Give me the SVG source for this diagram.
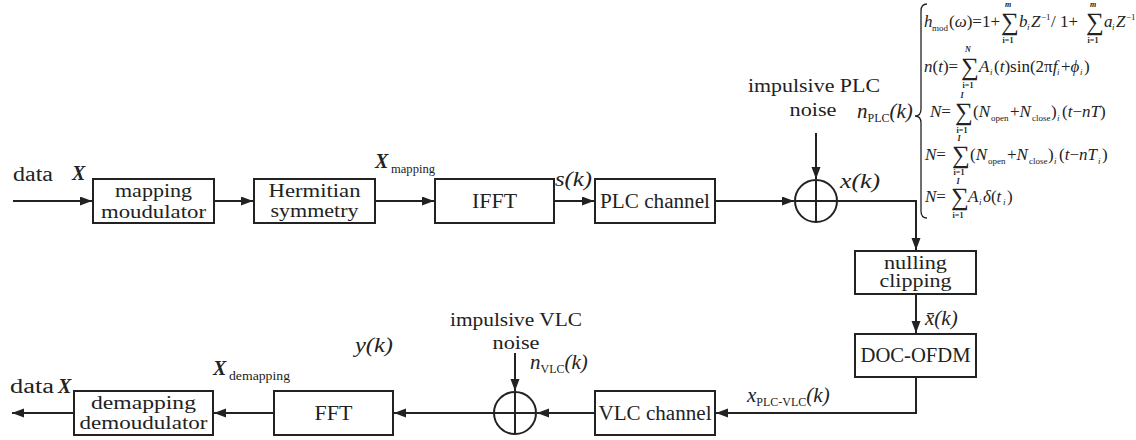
<svg xmlns="http://www.w3.org/2000/svg" width="1136" height="440" viewBox="0 0 1136 440">
<style>
.box{fill:#fff;stroke:#222;stroke-width:2}
.ln{fill:none;stroke:#222;stroke-width:2}
.lbl{font-family:"Liberation Serif","Times New Roman",serif;font-size:20px;fill:#222;text-anchor:middle}
.l2{font-size:19px}
.txt{font-family:"Liberation Serif","Times New Roman",serif;font-size:20px;fill:#222}
.m{font-family:"Liberation Serif","Times New Roman",serif;font-size:21px;font-style:italic;fill:#222}
.bx{font-family:"Liberation Serif","Times New Roman",serif;font-size:20px;font-style:italic;font-weight:bold;fill:#222}
.sb{font-family:"Liberation Serif","Times New Roman",serif;font-size:12px;font-style:normal;fill:#222}
.e{font-family:"Liberation Serif","Times New Roman",serif;font-size:17px;fill:#222}
.i{font-style:italic}
.es{font-family:"Liberation Serif","Times New Roman",serif;font-size:9px;fill:#222}
.sig{font-family:"Liberation Serif","Times New Roman",serif;font-size:25px;fill:#222}
.lim{font-family:"Liberation Serif","Times New Roman",serif;font-size:8px;font-weight:bold;fill:#222;text-anchor:middle}
</style>
<defs>
<marker id="ah" markerUnits="userSpaceOnUse" markerWidth="13" markerHeight="10" refX="12" refY="4.5" orient="auto">
<path d="M0,0 L12,4.5 L0,9 z" fill="#222"/>
</marker>
</defs>
<rect width="1136" height="440" fill="#fff"/>

<g id="connectors">
<path class="ln" d="M13,201 H92" marker-end="url(#ah)"/>
<path class="ln" d="M214,201 H253" marker-end="url(#ah)"/>
<path class="ln" d="M375,201 H434" marker-end="url(#ah)"/>
<path class="ln" d="M554,201 H594" marker-end="url(#ah)"/>
<path class="ln" d="M715,201 H794" marker-end="url(#ah)"/>
<path class="ln" d="M816,133 V179" marker-end="url(#ah)"/>
<path class="ln" d="M837,201 H916 V250" marker-end="url(#ah)"/>
<path class="ln" d="M916,294 V333" marker-end="url(#ah)"/>
<path class="ln" d="M916,377 V413 H716" marker-end="url(#ah)"/>
<path class="ln" d="M595,413 H537" marker-end="url(#ah)"/>
<path class="ln" d="M515,353 V391" marker-end="url(#ah)"/>
<path class="ln" d="M494,413 H394" marker-end="url(#ah)"/>
<path class="ln" d="M274,413 H214" marker-end="url(#ah)"/>
<path class="ln" d="M74,413 H12" marker-end="url(#ah)"/>
</g>

<g id="mapping-modulator">
<rect class="box" x="93" y="179" width="121" height="44"/>
<text class="lbl l2" x="153.5" y="197" textLength="77" lengthAdjust="spacingAndGlyphs">mapping</text>
<text class="lbl l2" x="153.5" y="218" textLength="105" lengthAdjust="spacingAndGlyphs">moudulator</text>
</g>
<g id="hermitian-symmetry">
<rect class="box" x="254" y="179" width="121" height="44"/>
<text class="lbl l2" x="314.5" y="197" textLength="92" lengthAdjust="spacingAndGlyphs">Hermitian</text>
<text class="lbl l2" x="314.5" y="217" textLength="88" lengthAdjust="spacingAndGlyphs">symmetry</text>
</g>
<g id="ifft">
<rect class="box" x="435" y="179" width="119" height="44"/>
<text class="lbl" x="494.5" y="208" textLength="45" lengthAdjust="spacingAndGlyphs">IFFT</text>
</g>
<g id="plc-channel">
<rect class="box" x="595" y="179" width="120" height="44"/>
<text class="lbl" x="655" y="208" textLength="110" lengthAdjust="spacingAndGlyphs">PLC channel</text>
</g>
<g id="plc-adder">
<circle class="ln" cx="816" cy="201" r="21"/>
<path class="ln" d="M795,201 H837 M816,180 V222"/>
</g>
<g id="nulling-clipping">
<rect class="box" x="855" y="251" width="121" height="43"/>
<text class="lbl" x="915.5" y="269" style="font-size:18px" textLength="63" lengthAdjust="spacingAndGlyphs">nulling</text>
<text class="lbl" x="915.5" y="287" style="font-size:18px" textLength="72" lengthAdjust="spacingAndGlyphs">clipping</text>
</g>
<g id="doc-ofdm">
<rect class="box" x="855" y="334" width="121" height="43"/>
<text class="lbl" x="915.5" y="362" textLength="110" lengthAdjust="spacingAndGlyphs">DOC-OFDM</text>
</g>
<g id="vlc-channel">
<rect class="box" x="595" y="391" width="120" height="44"/>
<text class="lbl" x="655" y="420" textLength="113" lengthAdjust="spacingAndGlyphs">VLC channel</text>
</g>
<g id="vlc-adder">
<circle class="ln" cx="515" cy="413" r="21"/>
<path class="ln" d="M494,413 H536 M515,392 V434"/>
</g>
<g id="fft">
<rect class="box" x="274" y="391" width="119" height="44"/>
<text class="lbl" x="333.5" y="420" textLength="38" lengthAdjust="spacingAndGlyphs">FFT</text>
</g>
<g id="demapping-demodulator">
<rect class="box" x="74" y="391" width="139" height="44"/>
<text class="lbl l2" x="143.5" y="409" textLength="105" lengthAdjust="spacingAndGlyphs">demapping</text>
<text class="lbl l2" x="143.5" y="429" textLength="128" lengthAdjust="spacingAndGlyphs">demoudulator</text>
</g>

<g id="labels">
<text class="txt" x="13" y="181" textLength="40" lengthAdjust="spacingAndGlyphs">data</text>
<text class="bx" x="72" y="180">X</text>
<text class="bx" x="375" y="168">X</text>
<text class="sb" x="391" y="173" textLength="44" lengthAdjust="spacingAndGlyphs">mapping</text>
<text class="m" x="555" y="186" textLength="37" lengthAdjust="spacingAndGlyphs">s(k)</text>
<text class="lbl l2" x="814" y="92" textLength="132" lengthAdjust="spacingAndGlyphs">impulsive PLC</text>
<text class="lbl l2" x="813" y="116" textLength="47" lengthAdjust="spacingAndGlyphs">noise</text>
<text class="m" x="857" y="118">n<tspan class="sb" font-size="11" dy="4">PLC</tspan><tspan dy="-4">(k)</tspan></text>
<text class="m" x="840" y="188" textLength="40" lengthAdjust="spacingAndGlyphs">x(k)</text>
<text class="m" x="925" y="325">x̄(k)</text>
<text class="m" x="747" y="402">x<tspan class="sb" font-size="11" dy="4">PLC-VLC</tspan><tspan dy="-4">(k)</tspan></text>
<text class="lbl l2" x="516" y="326" textLength="132" lengthAdjust="spacingAndGlyphs">impulsive VLC</text>
<text class="lbl l2" x="516" y="349" textLength="47" lengthAdjust="spacingAndGlyphs">noise</text>
<text class="m" x="530" y="369">n<tspan class="sb" font-size="11" dy="4">VLC</tspan><tspan dy="-4">(k)</tspan></text>
<text class="m" x="355" y="352" textLength="38" lengthAdjust="spacingAndGlyphs">y(k)</text>
<text class="txt" x="10" y="393" textLength="44" lengthAdjust="spacingAndGlyphs">data</text>
<text class="bx" x="58" y="393">X</text>
<text class="bx" x="213" y="375">X</text>
<text class="sb" x="229" y="380" textLength="61" lengthAdjust="spacingAndGlyphs">demapping</text>
</g>

<g id="plc-noise-equations">
<path class="ln" style="stroke-width:1.3" d="M927,4 Q921,4 921,11 V109 Q921,116 915,116 Q921,116 921,123 V211 Q921,218 927,218"/>
<!-- line 1 -->
<text class="e i" x="924" y="27">h</text>
<text class="es" x="932" y="31">mod</text>
<text class="e" x="949" y="27">(<tspan class="i">ω</tspan>)=1+</text>
<text class="sig" x="1001" y="30">∑</text>
<text class="lim i" x="1008" y="7">m</text>
<text class="lim" x="1008" y="43">i=1</text>
<text class="e i" x="1019" y="27">b</text>
<text class="es i" x="1027" y="30">i</text>
<text class="e i" x="1031" y="27">Z</text>
<text class="es" x="1041" y="20">−1</text>
<text class="e" x="1051" y="27">/ 1+</text>
<text class="sig" x="1086" y="30">∑</text>
<text class="lim i" x="1093" y="7">m</text>
<text class="lim" x="1093" y="43">i=1</text>
<text class="e i" x="1104" y="27">a</text>
<text class="es i" x="1112" y="30">i</text>
<text class="e i" x="1116" y="27">Z</text>
<text class="es" x="1126" y="20">−1</text>
<!-- line 2 -->
<text class="e" x="924" y="72"><tspan class="i">n</tspan>(<tspan class="i">t</tspan>)=</text>
<text class="sig" x="961" y="75">∑</text>
<text class="lim i" x="968" y="52">N</text>
<text class="lim" x="968" y="88">i=1</text>
<text class="e i" x="979" y="72">A</text>
<text class="es i" x="990" y="75">i</text>
<text class="e" x="994" y="72">(<tspan class="i">t</tspan>)sin(2π<tspan class="i">f</tspan></text>
<text class="es i" x="1057" y="75">i</text>
<text class="e" x="1061" y="72">+<tspan class="i">ϕ</tspan></text>
<text class="es i" x="1080" y="75">i</text>
<text class="e" x="1084" y="72">)</text>
<!-- line 3 -->
<text class="e i" x="930" y="117">N<tspan font-style="normal">=</tspan></text>
<text class="sig" x="955" y="120">∑</text>
<text class="lim i" x="962" y="98">I</text>
<text class="lim" x="962" y="133">i=1</text>
<text class="e" x="973" y="117">(<tspan class="i">N</tspan></text>
<text class="es" x="991" y="121">open</text>
<text class="e" x="1010" y="117">+<tspan class="i">N</tspan></text>
<text class="es" x="1032" y="121">close</text>
<text class="e" x="1051" y="117">)</text>
<text class="es i" x="1057" y="121">i</text>
<text class="e" x="1062" y="117">(<tspan class="i">t</tspan>−<tspan class="i">nT</tspan>)</text>
<!-- line 4 -->
<text class="e i" x="925" y="160">N<tspan font-style="normal">=</tspan></text>
<text class="sig" x="952" y="163">∑</text>
<text class="lim i" x="959" y="141">I</text>
<text class="lim" x="959" y="175">i=1</text>
<text class="e" x="970" y="160">(<tspan class="i">N</tspan></text>
<text class="es" x="988" y="164">open</text>
<text class="e" x="1007" y="160">+<tspan class="i">N</tspan></text>
<text class="es" x="1029" y="164">close</text>
<text class="e" x="1048" y="160">)</text>
<text class="es i" x="1054" y="164">i</text>
<text class="e" x="1059" y="160">(<tspan class="i">t</tspan>−<tspan class="i">nT</tspan></text>
<text class="es i" x="1098" y="164">i</text>
<text class="e" x="1102" y="160">)</text>
<!-- line 5 -->
<text class="e i" x="925" y="202">N<tspan font-style="normal">=</tspan></text>
<text class="sig" x="951" y="205">∑</text>
<text class="lim i" x="958" y="184">I</text>
<text class="lim" x="958" y="218">i=1</text>
<text class="e i" x="968" y="202">A</text>
<text class="es i" x="979" y="205">i</text>
<text class="e" x="983" y="202"><tspan class="i">δ</tspan>(<tspan class="i">t</tspan></text>
<text class="es i" x="1003" y="205">i</text>
<text class="e" x="1007" y="202">)</text>
</g>
</svg>
